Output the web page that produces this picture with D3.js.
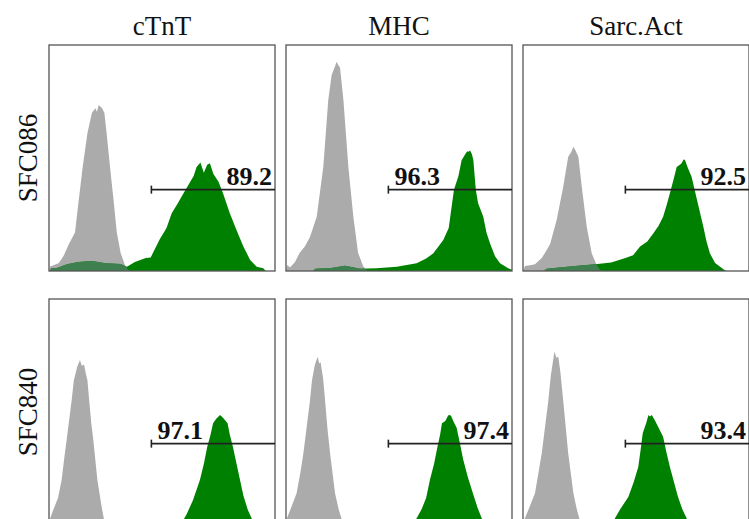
<!DOCTYPE html>
<html>
<head>
<meta charset="utf-8">
<script src="https://cdn.jsdelivr.net/npm/d3@7"></script>
<style>
  body { margin: 0; background: #fff; }
  svg { display: block; }
</style>
</head>
<body>
<div class="viz-container"></div>
<script>
// markers (columns) and cell lines (rows)
var markers = ["cTnT", "MHC", "Sarc.Act"];
var cellLines = ["SFC086", "SFC840"];

// gate percentages, row by row
var gateValues = [[89.2, 96.3, 92.5], [97.1, 97.4, 93.4]];
// gate start on the fluorescence axis (0-100) and its height (% of max)
var gateStart = 45.3;
var gateLevel = [36, 36];

// histograms: [fluorescence 0-100, count % of panel height]
// isotype control (grey)
var isoCtnt086 = [[0,0],[0.5,2],[2,2.5],[4.4,3.5],[6.6,7],[8.8,12],[11.5,17],[13,30],[14.9,46],[17,61],[19,70],[20.5,72],[21.2,70.5],[22,73.5],[23.5,72],[24.5,70],[25.5,61],[27,46],[28.5,32],[30,17],[31.7,8],[33.6,2.5],[35,0.5],[36,0]];
var isoMhc086 = [[0,0],[0.6,2.6],[1.8,1.5],[4,4],[6,8],[8.4,11],[10.6,15],[13.6,24],[16.5,46],[18.7,75.7],[20.2,86.7],[21.5,90],[22.4,92.6],[23.2,91],[23.9,90],[25.4,75.7],[27.6,46],[29.8,24],[31.9,8],[34.2,2],[36,0]];
var isoSarc086 = [[0,0],[0.9,2.2],[3.1,2.5],[5.3,3],[8.3,5.7],[10.5,9.3],[12,12],[14.9,22.6],[17.8,37.3],[20,50.6],[21.3,52.5],[22.3,55],[23.4,53],[24.5,50.6],[26,37.3],[28.2,19.6],[30.4,7.8],[32.6,2.6],[34,0.5],[35,0]];
var isoCtnt840 = [[0,0],[0.4,2.7],[2,7],[4,12],[5.6,20],[6.8,30],[7.8,37.6],[10,55],[11,64],[12.5,70],[13.7,73],[14.5,70.5],[15.5,71],[16.3,67],[17,64],[17.8,55],[18.7,45],[19.6,37.6],[21.4,20],[23.3,8],[24.3,2.7],[25.5,0]];
var isoMhc840 = [[0,0],[0.3,2.7],[2,7],[4.7,14],[6.5,24],[7.7,31.7],[10.6,55],[11.5,64],[12.8,71],[14,74.5],[14.7,71.5],[15.3,72],[16.4,65],[17.3,55],[18.4,42],[19.5,31.7],[21.7,14],[23.3,7],[24.6,2.7],[25.8,0]];
var isoSarc840 = [[0,0],[0.7,2.7],[2.5,7],[5.3,14],[7,24],[8.3,31.7],[11.2,55],[12.3,66],[13.9,76.7],[14.8,74],[15.6,74.5],[16.5,68],[17.8,55],[20,31.7],[22.3,14],[23.8,7],[25,2.7],[26,0]];

// stained sample (green)
var stainCtnt086 = [[0.5,0],[1,1.3],[3.5,1.3],[8,3],[13,4],[19,4.4],[25,3.4],[31.7,3.1],[34.5,1.9],[38,4],[42.8,5.7],[45,6],[49,14],[52,19],[54.3,25.5],[57,30],[58.7,33],[61,37],[64,42],[65.3,46],[67,48],[68.5,43.5],[70,47],[71.2,47.7],[72.7,43],[75,39.5],[77,34.4],[80,25.5],[83,18],[86,10.8],[89,4.9],[91.9,1.9],[94.8,1.2],[96,0]];
var stainMhc086 = [[12,0],[13,1],[20,1.3],[24,2],[26,2.3],[29,1.8],[32.7,1],[40,1.2],[49,1.9],[57.8,3.4],[62,5.5],[65.2,7.8],[69.6,13.7],[72,19],[74.3,35.8],[76.3,42],[77.7,49],[79.5,52],[80.2,53],[80.7,52.8],[81.5,53.3],[82.3,51.5],[82.9,49],[84,35.8],[85,30],[87.3,24],[88.7,17],[90.3,12.2],[92.5,6.5],[94.7,3.4],[98.3,1.2],[100,0.5]];
var stainSarc086 = [[9,0],[10.5,1],[16,1.5],[23,2.2],[28,2.7],[31.9,3],[35,3.3],[39,3.8],[45,5.6],[48.7,7],[51.8,10.8],[55,13],[57.7,16.7],[60,20],[62,24],[63.5,29],[65,34.4],[66.5,40],[68,46],[70,47.5],[71.2,49.5],[71.7,49],[73,45.5],[74.6,41.7],[77,31.4],[79.8,19.6],[81.2,13],[82.7,7.8],[85,3.5],[87.2,1.9],[89,0.5],[90,0]];
var stainCtnt840 = [[58,0],[59.7,2.7],[61,5],[63.7,11],[66.8,20],[68.5,27],[70,34.5],[71.5,40],[72.6,45],[74,47],[75.7,48.7],[77,47.5],[79,45],[80,40],[81.4,34.5],[83,27],[84.5,20],[86,13],[88,6.6],[89.8,2.7],[91,0]];
var stainMhc840 = [[56,0],[57.8,3],[60,7],[62,12],[63.7,20],[65.5,27],[67,34.5],[68.2,40],[69,45],[70.5,46],[71.5,48],[72,48.7],[73,48.5],[74,46],[75.5,43],[77,36],[78.4,29],[80.5,21],[82.7,14],[84.8,7.5],[86.6,3],[88,0]];
var stainSarc840 = [[40,0],[40.7,3],[43,7],[46.6,12.4],[49,19],[51,25.7],[52,33],[53,40.7],[54.5,45],[55.5,48.7],[56.2,48],[57,48.7],[58.5,46],[60,43],[62,39],[63.5,32],[65,25.7],[66.8,19],[68.6,12.4],[70.5,7],[72.4,3],[73.5,0]];

var isotype = [[isoCtnt086, isoMhc086, isoSarc086], [isoCtnt840, isoMhc840, isoSarc840]];
var stained = [[stainCtnt086, stainMhc086, stainSarc086], [stainCtnt840, stainMhc840, stainSarc840]];

// layout
var config = {
  width: 749,
  height: 519,
  panelSize: 226,
  colLeft: [49, 286, 523],
  rowTop: [45, 299],
  labelAnchor: [["end", "start", "end"], ["start", "end", "end"]],
  grey: "#ababab",
  green: "#008000",
  overlap: "#3f8050"
};

var svg = d3.select(".viz-container").append("svg")
  .attr("width", config.width)
  .attr("height", config.height);

var defs = svg.append("defs");

var x = d3.scaleLinear().domain([0, 100]).range([0, config.panelSize]);
var y = d3.scaleLinear().domain([0, 100]).range([config.panelSize, 0]);

var area = d3.area()
  .x(function (d) { return x(d[0]); })
  .y0(y(0))
  .y1(function (d) { return y(d[1]); });

// column titles
svg.selectAll(".title")
  .data(markers)
  .enter()
  .append("text")
    .attr("class", "title")
    .attr("x", function (d, i) { return config.colLeft[i] + config.panelSize / 2; })
    .attr("y", 35)
    .attr("text-anchor", "middle")
    .attr("font-family", "Liberation Serif")
    .attr("font-size", "27px")
    .attr("fill", "#111")
    .text(function (d) { return d; });

// row labels
svg.selectAll(".rowlabel")
  .data(cellLines)
  .enter()
  .append("text")
    .attr("class", "rowlabel")
    .attr("transform", function (d, i) {
      return "translate(37," + (config.rowTop[i] + config.panelSize / 2) + ") rotate(-90)";
    })
    .attr("text-anchor", "middle")
    .attr("font-family", "Liberation Serif")
    .attr("font-size", "27px")
    .attr("fill", "#111")
    .text(function (d) { return d; });

cellLines.forEach(function (line, r) {
  markers.forEach(function (marker, c) {

    var id = "p" + r + c;
    var g = svg.append("g")
      .attr("class", "panel")
      .attr("transform", "translate(" + config.colLeft[c] + "," + config.rowTop[r] + ")");

    defs.append("clipPath").attr("id", "frame-" + id)
      .append("rect")
        .attr("width", config.panelSize)
        .attr("height", config.panelSize);

    defs.append("clipPath").attr("id", "iso-" + id)
      .append("path")
        .attr("d", area(isotype[r][c]));

    var plot = g.append("g").attr("clip-path", "url(#frame-" + id + ")");

    plot.append("path")
      .attr("d", area(isotype[r][c]))
      .attr("fill", config.grey);

    plot.append("path")
      .attr("d", area(stained[r][c]))
      .attr("fill", config.green);

    // where green sits under the grey peak it reads darker
    plot.append("path")
      .attr("d", area(stained[r][c]))
      .attr("fill", config.overlap)
      .attr("clip-path", "url(#iso-" + id + ")");

    // frame
    g.append("rect")
      .attr("width", config.panelSize)
      .attr("height", config.panelSize)
      .attr("fill", "none")
      .attr("stroke", "#555")
      .attr("stroke-width", 1.3);

    // gate bar
    var gy = y(gateLevel[r]);
    g.append("line")
      .attr("x1", x(gateStart))
      .attr("x2", x(100))
      .attr("y1", gy)
      .attr("y2", gy)
      .attr("stroke", "#222")
      .attr("stroke-width", 1.6);

    g.append("line")
      .attr("x1", x(gateStart))
      .attr("x2", x(gateStart))
      .attr("y1", gy - 4)
      .attr("y2", gy + 4)
      .attr("stroke", "#222")
      .attr("stroke-width", 1.6);

    var anchor = config.labelAnchor[r][c];
    g.append("text")
      .attr("x", anchor === "end" ? x(100) - 3 : x(gateStart) + 6)
      .attr("y", gy - 5)
      .attr("text-anchor", anchor)
      .attr("font-family", "Liberation Serif")
      .attr("font-weight", "bold")
      .attr("font-size", "26px")
      .attr("fill", "#111")
      .text(gateValues[r][c].toFixed(1));
  });
});
</script>
</body>
</html>
